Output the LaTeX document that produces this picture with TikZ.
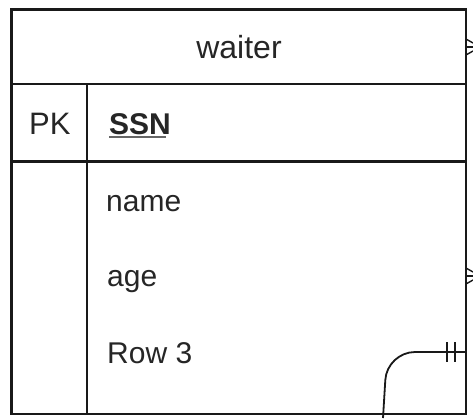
\documentclass[tikz,border=0pt]{standalone}
\usepackage{fontspec}
\setmainfont{Liberation Sans}
\usetikzlibrary{positioning}
\tikzset{
  ln/.style={black!90, line width=2.2pt},
  fld/.style={anchor=base west, inner sep=0pt, font=\fontsize{30}{36}\selectfont, text=black!85},
  tick/.style={black!90, line width=1.8pt}
}
\begin{document}
\begin{tikzpicture}[x=1pt,y=-1pt]
\useasboundingbox (0,0) rectangle (473,418);
\fill[white] (0,0) rectangle (473,418);

\draw [ln] (11.5,9.5) rectangle (466,414);
\draw [ln] (11.5,84) -- (466,84);
\draw [ln] (11.5,161.5) -- (466,161.5);
\draw [ln] (87,84) -- (87,414);

\node [inner sep=0pt, font=\fontsize{32}{36}\selectfont, text=black!85] (title) at (239,47) {waiter};
\node [fld, font=\fontsize{31}{36}\selectfont] (pk) at (29,134) {PK};
\node [fld, font=\fontsize{30}{36}\selectfont\bfseries] (ssn) at (109,134) {SSN};
\draw [black!60, line width=1.4pt] (ssn.base west) ++(0,3) coordinate (u1) -- ++(57,0) coordinate (u2);
\node [fld] (name) at (106,211.5) {name};
\node [fld] (age) at (107,286.5) {age};
\node [fld] (row3) at (107,363) {Row 3};

\coordinate (r3) at (466,352);
\coordinate (low) at (383,418);
\draw [ln, line width=1.8pt, rounded corners=28] (r3) -- (387,352) -- (low);
\draw [tick] (447,342) -- (447,362);
\draw [tick] (455,342) -- (455,362);

\coordinate (top) at (466,47);
\draw [tick, line width=1.4pt] (top) ++(0,-8) -- (473,43);
\draw [tick, line width=1.4pt] (top) -- (473,47);
\draw [tick, line width=1.4pt] (top) ++(0,8) -- (473,51);
\coordinate (mid) at (466,276);
\draw [tick, line width=1.4pt] (mid) ++(0,-8) -- (473,272);
\draw [tick, line width=1.4pt] (mid) -- (473,276);
\draw [tick, line width=1.4pt] (mid) ++(0,8) -- (473,280);

\end{tikzpicture}
\end{document}
